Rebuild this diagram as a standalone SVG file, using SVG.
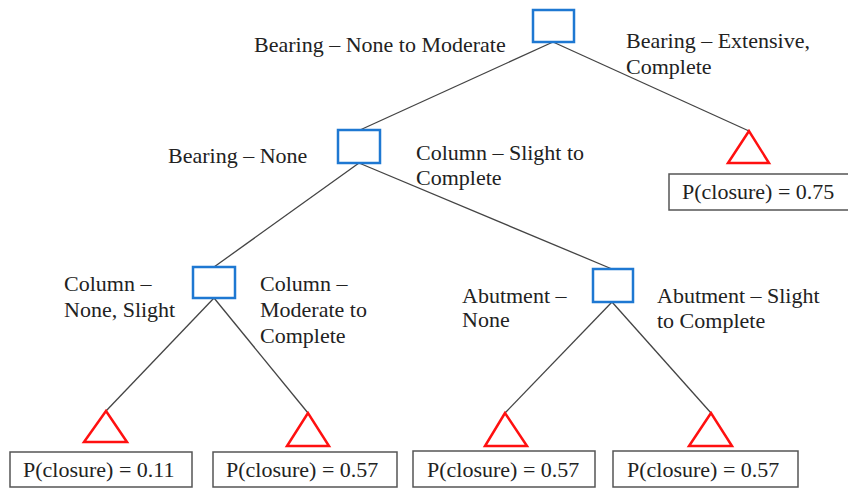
<svg xmlns="http://www.w3.org/2000/svg" width="848" height="490" viewBox="0 0 848 490">
<style>
.dec{fill:#fff;stroke:#1e78d2;stroke-width:2.5}
.leaf{fill:none;stroke:#ff1010;stroke-width:2.5;stroke-linejoin:miter}
.res{fill:#fff;stroke:#555;stroke-width:1.5}
.t{font-family:"Liberation Serif","Times New Roman",serif;font-size:22px;fill:#222}
.edge{stroke:#444;stroke-width:1.3;fill:none}
</style>
<rect width="848" height="490" fill="#fff"/>
<g id="connectors">
<line class="edge" x1="553" y1="42" x2="360" y2="130"/>
<line class="edge" x1="553" y1="42" x2="749" y2="131"/>
<line class="edge" x1="359" y1="163" x2="214" y2="267"/>
<line class="edge" x1="359" y1="163" x2="612" y2="269"/>
<line class="edge" x1="214" y1="298" x2="106" y2="411"/>
<line class="edge" x1="214" y1="298" x2="308" y2="413"/>
<line class="edge" x1="612" y1="302" x2="505" y2="413"/>
<line class="edge" x1="612" y1="302" x2="711" y2="413"/>
</g>
<g id="root">
<rect class="dec" x="533" y="10" width="41" height="32"/>
</g>
<g id="bearing-none">
<rect class="dec" x="338" y="130" width="42" height="33"/>
</g>
<g id="column-node">
<rect class="dec" x="193" y="267" width="42" height="31"/>
</g>
<g id="abutment-node">
<rect class="dec" x="593" y="269" width="40" height="33"/>
</g>
<g id="leaf-075">
<polygon class="leaf" points="749,131 728,163 769,163"/>
<rect class="res" x="669" y="174" width="184" height="36"/>
<text class="t" x="682" y="199">P(closure) = 0.75</text>
</g>
<g id="leaf-011">
<polygon class="leaf" points="106,411 84,442 127,442"/>
<rect class="res" x="10" y="452" width="182" height="35"/>
<text class="t" x="23" y="477">P(closure) = 0.11</text>
</g>
<g id="leaf-057a">
<polygon class="leaf" points="308,413 287,446 329,446"/>
<rect class="res" x="213" y="452" width="184" height="35"/>
<text class="t" x="226" y="477">P(closure) = 0.57</text>
</g>
<g id="leaf-057b">
<polygon class="leaf" points="505,413 485,446 527,446"/>
<rect class="res" x="413" y="451" width="182" height="36"/>
<text class="t" x="427" y="477">P(closure) = 0.57</text>
</g>
<g id="leaf-057c">
<polygon class="leaf" points="711,413 689,446 732,446"/>
<rect class="res" x="613" y="451" width="185" height="36"/>
<text class="t" x="627" y="477">P(closure) = 0.57</text>
</g>
<g id="labels">
<text class="t" x="254" y="52">Bearing – None to Moderate</text>
<text class="t" x="626" y="48">Bearing – Extensive,</text>
<text class="t" x="626" y="74">Complete</text>
<text class="t" x="168" y="163">Bearing – None</text>
<text class="t" x="416" y="160">Column – Slight to</text>
<text class="t" x="416" y="185">Complete</text>
<text class="t" x="64" y="291">Column –</text>
<text class="t" x="64" y="317">None, Slight</text>
<text class="t" x="260" y="291">Column –</text>
<text class="t" x="260" y="317">Moderate to</text>
<text class="t" x="260" y="343">Complete</text>
<text class="t" x="462" y="303">Abutment –</text>
<text class="t" x="462" y="327">None</text>
<text class="t" x="657" y="303">Abutment – Slight</text>
<text class="t" x="657" y="328">to Complete</text>
</g>
</svg>
